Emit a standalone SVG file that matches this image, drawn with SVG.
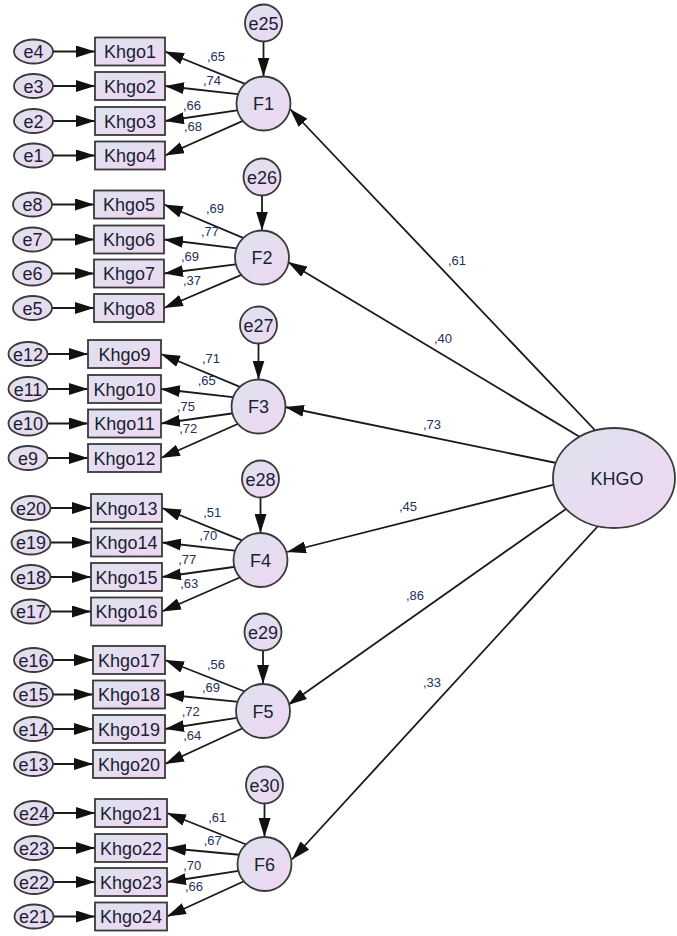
<svg xmlns="http://www.w3.org/2000/svg" width="677" height="936" viewBox="0 0 677 936">
<style>
.n{fill:url(#g);stroke:#3a3a3a;stroke-width:1.8}
.t{font-family:"Liberation Sans",Arial,sans-serif;font-size:18px;fill:#1a1f33;text-anchor:middle}
.l{font-family:"Liberation Sans",Arial,sans-serif;font-size:13px;fill:#22305a;text-anchor:middle}
.c{stroke:#1a1a1a;stroke-width:1.8;fill:none;marker-end:url(#ah)}
</style>
<defs>
<linearGradient id="g" x1="0" y1="0" x2="1" y2="1">
<stop offset="0" stop-color="#dde3ee"/>
<stop offset="1" stop-color="#efd6f2"/>
</linearGradient>
<marker id="ah" markerUnits="userSpaceOnUse" markerWidth="19" markerHeight="12" viewBox="0 0 19 12" refX="19" refY="6" orient="auto">
<path d="M0,0 L19,6 L0,12 z" fill="#111"/>
</marker>
</defs>
<rect width="677" height="936" fill="#fff"/>
<g id="connectors">
<line class="c" x1="53" y1="51.5" x2="95" y2="51.5"/>
<line class="c" x1="53" y1="86" x2="95" y2="86"/>
<line class="c" x1="53" y1="121" x2="95" y2="121"/>
<line class="c" x1="53" y1="155.5" x2="95" y2="155.5"/>
<line class="c" x1="52" y1="204.5" x2="94" y2="204.5"/>
<line class="c" x1="52" y1="239.5" x2="94" y2="239.5"/>
<line class="c" x1="52" y1="273.5" x2="94" y2="273.5"/>
<line class="c" x1="52" y1="308" x2="94" y2="308"/>
<line class="c" x1="47.5" y1="354" x2="88" y2="354"/>
<line class="c" x1="47.5" y1="389" x2="88" y2="389"/>
<line class="c" x1="47.5" y1="423.5" x2="88" y2="423.5"/>
<line class="c" x1="47.5" y1="458" x2="88" y2="458"/>
<line class="c" x1="50.5" y1="508" x2="91" y2="508"/>
<line class="c" x1="50.5" y1="542.5" x2="91" y2="542.5"/>
<line class="c" x1="50.5" y1="577" x2="91" y2="577"/>
<line class="c" x1="50.5" y1="611.5" x2="91" y2="611.5"/>
<line class="c" x1="53" y1="660" x2="93" y2="660"/>
<line class="c" x1="53" y1="694.5" x2="93" y2="694.5"/>
<line class="c" x1="53" y1="729" x2="93" y2="729"/>
<line class="c" x1="53" y1="764" x2="93" y2="764"/>
<line class="c" x1="53.5" y1="813" x2="95" y2="813"/>
<line class="c" x1="53.5" y1="848" x2="95" y2="848"/>
<line class="c" x1="53.5" y1="882" x2="95" y2="882"/>
<line class="c" x1="53.5" y1="916.5" x2="95" y2="916.5"/>
<line class="c" x1="263.5" y1="41.5" x2="263.5" y2="76.5"/>
<line class="c" x1="262" y1="195.5" x2="262" y2="230.5"/>
<line class="c" x1="258.5" y1="343.5" x2="258.5" y2="379.5"/>
<line class="c" x1="260.5" y1="497.5" x2="260.5" y2="533"/>
<line class="c" x1="263" y1="650.5" x2="263" y2="684"/>
<line class="c" x1="264.5" y1="803.5" x2="264.5" y2="837"/>
<line class="c" x1="253" y1="87.2" x2="165" y2="51.5"/>
<line class="c" x1="246.6" y1="95.2" x2="165" y2="86"/>
<line class="c" x1="247.2" y1="108.9" x2="165" y2="121"/>
<line class="c" x1="253" y1="116.4" x2="165" y2="155.5"/>
<line class="c" x1="251.4" y1="241.3" x2="164" y2="204.5"/>
<line class="c" x1="245.1" y1="249.3" x2="164" y2="239.5"/>
<line class="c" x1="245.7" y1="263.2" x2="164" y2="273.5"/>
<line class="c" x1="251.4" y1="270.6" x2="164" y2="308"/>
<line class="c" x1="247.8" y1="390.2" x2="161" y2="354"/>
<line class="c" x1="241.5" y1="398.2" x2="161" y2="389"/>
<line class="c" x1="242.1" y1="412" x2="161" y2="423.5"/>
<line class="c" x1="247.8" y1="419.5" x2="161" y2="458"/>
<line class="c" x1="250" y1="543.7" x2="162" y2="508"/>
<line class="c" x1="243.7" y1="551.7" x2="162" y2="542.5"/>
<line class="c" x1="244.2" y1="565.5" x2="162" y2="577"/>
<line class="c" x1="250" y1="573" x2="162" y2="611.5"/>
<line class="c" x1="252.4" y1="694.5" x2="165" y2="660"/>
<line class="c" x1="246.1" y1="702.6" x2="165" y2="694.5"/>
<line class="c" x1="246.7" y1="716.4" x2="165" y2="729"/>
<line class="c" x1="252.4" y1="723.8" x2="165" y2="764"/>
<line class="c" x1="253.8" y1="847.5" x2="167" y2="813"/>
<line class="c" x1="247.5" y1="855.5" x2="167" y2="848"/>
<line class="c" x1="248.1" y1="869.4" x2="167" y2="882"/>
<line class="c" x1="253.8" y1="876.8" x2="167" y2="916.5"/>
<line class="c" x1="610" y1="446" x2="290" y2="109"/>
<line class="c" x1="600" y1="449" x2="288" y2="262"/>
<line class="c" x1="600" y1="472" x2="285" y2="407"/>
<line class="c" x1="600" y1="473" x2="287" y2="552"/>
<line class="c" x1="600" y1="485" x2="288" y2="705"/>
<line class="c" x1="610" y1="513" x2="292" y2="859.5"/>
<text class="l" x="216" y="60.5">,65</text>
<text class="l" x="212" y="84.5">,74</text>
<text class="l" x="192" y="109.5">,66</text>
<text class="l" x="193" y="130.5">,68</text>
<text class="l" x="215" y="212.8">,69</text>
<text class="l" x="210" y="236.2">,77</text>
<text class="l" x="190" y="260.5">,69</text>
<text class="l" x="192" y="284.5">,37</text>
<text class="l" x="211" y="362.8">,71</text>
<text class="l" x="206.7" y="385.2">,65</text>
<text class="l" x="186" y="410.5">,75</text>
<text class="l" x="188.3" y="432.8">,72</text>
<text class="l" x="212.3" y="517.2">,51</text>
<text class="l" x="208.3" y="539.5">,70</text>
<text class="l" x="187.3" y="563.8">,77</text>
<text class="l" x="189.3" y="587.8">,63</text>
<text class="l" x="216" y="668.8">,56</text>
<text class="l" x="211" y="692.2">,69</text>
<text class="l" x="190.7" y="716.2">,72</text>
<text class="l" x="192.3" y="739.5">,64</text>
<text class="l" x="217.3" y="822.2">,61</text>
<text class="l" x="212.7" y="844.5">,67</text>
<text class="l" x="192.3" y="869.5">,70</text>
<text class="l" x="194" y="891.2">,66</text>
<text class="l" x="457" y="264.5">,61</text>
<text class="l" x="443" y="342.5">,40</text>
<text class="l" x="432" y="428.5">,73</text>
<text class="l" x="408" y="510.5">,45</text>
<text class="l" x="415" y="599.5">,86</text>
<text class="l" x="432" y="686.5">,33</text>
</g>
<g id="e4"><ellipse class="n" cx="33.5" cy="51.5" rx="19.5" ry="12"/><text class="t" x="33.5" y="58">e4</text></g>
<g id="e3"><ellipse class="n" cx="33.5" cy="86" rx="19.5" ry="12"/><text class="t" x="33.5" y="92.5">e3</text></g>
<g id="e2"><ellipse class="n" cx="33.5" cy="121" rx="19.5" ry="12"/><text class="t" x="33.5" y="127.5">e2</text></g>
<g id="e1"><ellipse class="n" cx="33.5" cy="155.5" rx="19.5" ry="12"/><text class="t" x="33.5" y="162">e1</text></g>
<g id="Khgo1"><rect class="n" x="95" y="37.5" width="70" height="28"/><text class="t" x="130" y="58">Khgo1</text></g>
<g id="Khgo2"><rect class="n" x="95" y="72" width="70" height="28"/><text class="t" x="130" y="92.5">Khgo2</text></g>
<g id="Khgo3"><rect class="n" x="95" y="107" width="70" height="28"/><text class="t" x="130" y="127.5">Khgo3</text></g>
<g id="Khgo4"><rect class="n" x="95" y="141.5" width="70" height="28"/><text class="t" x="130" y="162">Khgo4</text></g>
<g id="e8"><ellipse class="n" cx="32.5" cy="204.5" rx="19.5" ry="12"/><text class="t" x="32.5" y="211">e8</text></g>
<g id="e7"><ellipse class="n" cx="32.5" cy="239.5" rx="19.5" ry="12"/><text class="t" x="32.5" y="246">e7</text></g>
<g id="e6"><ellipse class="n" cx="32.5" cy="273.5" rx="19.5" ry="12"/><text class="t" x="32.5" y="280">e6</text></g>
<g id="e5"><ellipse class="n" cx="32.5" cy="308" rx="19.5" ry="12"/><text class="t" x="32.5" y="314.5">e5</text></g>
<g id="Khgo5"><rect class="n" x="94" y="190.5" width="70" height="28"/><text class="t" x="129" y="211">Khgo5</text></g>
<g id="Khgo6"><rect class="n" x="94" y="225.5" width="70" height="28"/><text class="t" x="129" y="246">Khgo6</text></g>
<g id="Khgo7"><rect class="n" x="94" y="259.5" width="70" height="28"/><text class="t" x="129" y="280">Khgo7</text></g>
<g id="Khgo8"><rect class="n" x="94" y="294" width="70" height="28"/><text class="t" x="129" y="314.5">Khgo8</text></g>
<g id="e12"><ellipse class="n" cx="28" cy="354" rx="19.5" ry="12"/><text class="t" x="28" y="360.5">e12</text></g>
<g id="e11"><ellipse class="n" cx="28" cy="389" rx="19.5" ry="12"/><text class="t" x="28" y="395.5">e11</text></g>
<g id="e10"><ellipse class="n" cx="28" cy="423.5" rx="19.5" ry="12"/><text class="t" x="28" y="430">e10</text></g>
<g id="e9"><ellipse class="n" cx="28" cy="458" rx="19.5" ry="12"/><text class="t" x="28" y="464.5">e9</text></g>
<g id="Khgo9"><rect class="n" x="88" y="340" width="73" height="28"/><text class="t" x="124.5" y="360.5">Khgo9</text></g>
<g id="Khgo10"><rect class="n" x="88" y="375" width="73" height="28"/><text class="t" x="124.5" y="395.5">Khgo10</text></g>
<g id="Khgo11"><rect class="n" x="88" y="409.5" width="73" height="28"/><text class="t" x="124.5" y="430">Khgo11</text></g>
<g id="Khgo12"><rect class="n" x="88" y="444" width="73" height="28"/><text class="t" x="124.5" y="464.5">Khgo12</text></g>
<g id="e20"><ellipse class="n" cx="31" cy="508" rx="19.5" ry="12"/><text class="t" x="31" y="514.5">e20</text></g>
<g id="e19"><ellipse class="n" cx="31" cy="542.5" rx="19.5" ry="12"/><text class="t" x="31" y="549">e19</text></g>
<g id="e18"><ellipse class="n" cx="31" cy="577" rx="19.5" ry="12"/><text class="t" x="31" y="583.5">e18</text></g>
<g id="e17"><ellipse class="n" cx="31" cy="611.5" rx="19.5" ry="12"/><text class="t" x="31" y="618">e17</text></g>
<g id="Khgo13"><rect class="n" x="91" y="494" width="71" height="28"/><text class="t" x="126.5" y="514.5">Khgo13</text></g>
<g id="Khgo14"><rect class="n" x="91" y="528.5" width="71" height="28"/><text class="t" x="126.5" y="549">Khgo14</text></g>
<g id="Khgo15"><rect class="n" x="91" y="563" width="71" height="28"/><text class="t" x="126.5" y="583.5">Khgo15</text></g>
<g id="Khgo16"><rect class="n" x="91" y="597.5" width="71" height="28"/><text class="t" x="126.5" y="618">Khgo16</text></g>
<g id="e16"><ellipse class="n" cx="33.5" cy="660" rx="19.5" ry="12"/><text class="t" x="33.5" y="666.5">e16</text></g>
<g id="e15"><ellipse class="n" cx="33.5" cy="694.5" rx="19.5" ry="12"/><text class="t" x="33.5" y="701">e15</text></g>
<g id="e14"><ellipse class="n" cx="33.5" cy="729" rx="19.5" ry="12"/><text class="t" x="33.5" y="735.5">e14</text></g>
<g id="e13"><ellipse class="n" cx="33.5" cy="764" rx="19.5" ry="12"/><text class="t" x="33.5" y="770.5">e13</text></g>
<g id="Khgo17"><rect class="n" x="93" y="646" width="72" height="28"/><text class="t" x="129" y="666.5">Khgo17</text></g>
<g id="Khgo18"><rect class="n" x="93" y="680.5" width="72" height="28"/><text class="t" x="129" y="701">Khgo18</text></g>
<g id="Khgo19"><rect class="n" x="93" y="715" width="72" height="28"/><text class="t" x="129" y="735.5">Khgo19</text></g>
<g id="Khgo20"><rect class="n" x="93" y="750" width="72" height="28"/><text class="t" x="129" y="770.5">Khgo20</text></g>
<g id="e24"><ellipse class="n" cx="34" cy="813" rx="19.5" ry="12"/><text class="t" x="34" y="819.5">e24</text></g>
<g id="e23"><ellipse class="n" cx="34" cy="848" rx="19.5" ry="12"/><text class="t" x="34" y="854.5">e23</text></g>
<g id="e22"><ellipse class="n" cx="34" cy="882" rx="19.5" ry="12"/><text class="t" x="34" y="888.5">e22</text></g>
<g id="e21"><ellipse class="n" cx="34" cy="916.5" rx="19.5" ry="12"/><text class="t" x="34" y="923">e21</text></g>
<g id="Khgo21"><rect class="n" x="95" y="799" width="72" height="28"/><text class="t" x="131" y="819.5">Khgo21</text></g>
<g id="Khgo22"><rect class="n" x="95" y="834" width="72" height="28"/><text class="t" x="131" y="854.5">Khgo22</text></g>
<g id="Khgo23"><rect class="n" x="95" y="868" width="72" height="28"/><text class="t" x="131" y="888.5">Khgo23</text></g>
<g id="Khgo24"><rect class="n" x="95" y="902.5" width="72" height="28"/><text class="t" x="131" y="923">Khgo24</text></g>
<g id="e25"><circle class="n" cx="263.5" cy="23" r="18.5"/><text class="t" x="263.5" y="29.5">e25</text></g>
<g id="F1"><circle class="n" cx="263.5" cy="103.5" r="27"/><text class="t" x="263.5" y="110">F1</text></g>
<g id="e26"><circle class="n" cx="262" cy="177" r="18.5"/><text class="t" x="262" y="183.5">e26</text></g>
<g id="F2"><circle class="n" cx="262" cy="257.5" r="27"/><text class="t" x="262" y="264">F2</text></g>
<g id="e27"><circle class="n" cx="258.5" cy="325" r="18.5"/><text class="t" x="258.5" y="331.5">e27</text></g>
<g id="F3"><circle class="n" cx="258.5" cy="406.5" r="27"/><text class="t" x="258.5" y="413">F3</text></g>
<g id="e28"><circle class="n" cx="260.5" cy="479" r="18.5"/><text class="t" x="260.5" y="485.5">e28</text></g>
<g id="F4"><circle class="n" cx="260.5" cy="560" r="27"/><text class="t" x="260.5" y="566.5">F4</text></g>
<g id="e29"><circle class="n" cx="263" cy="632" r="18.5"/><text class="t" x="263" y="638.5">e29</text></g>
<g id="F5"><circle class="n" cx="263" cy="711" r="27"/><text class="t" x="263" y="717.5">F5</text></g>
<g id="e30"><circle class="n" cx="264.5" cy="785" r="18.5"/><text class="t" x="264.5" y="791.5">e30</text></g>
<g id="F6"><circle class="n" cx="264.5" cy="864" r="27"/><text class="t" x="264.5" y="870.5">F6</text></g>
<g id="KHGO"><ellipse class="n" cx="614" cy="478" rx="61" ry="50"/><text class="t" x="617" y="484.5">KHGO</text></g>
</svg>
